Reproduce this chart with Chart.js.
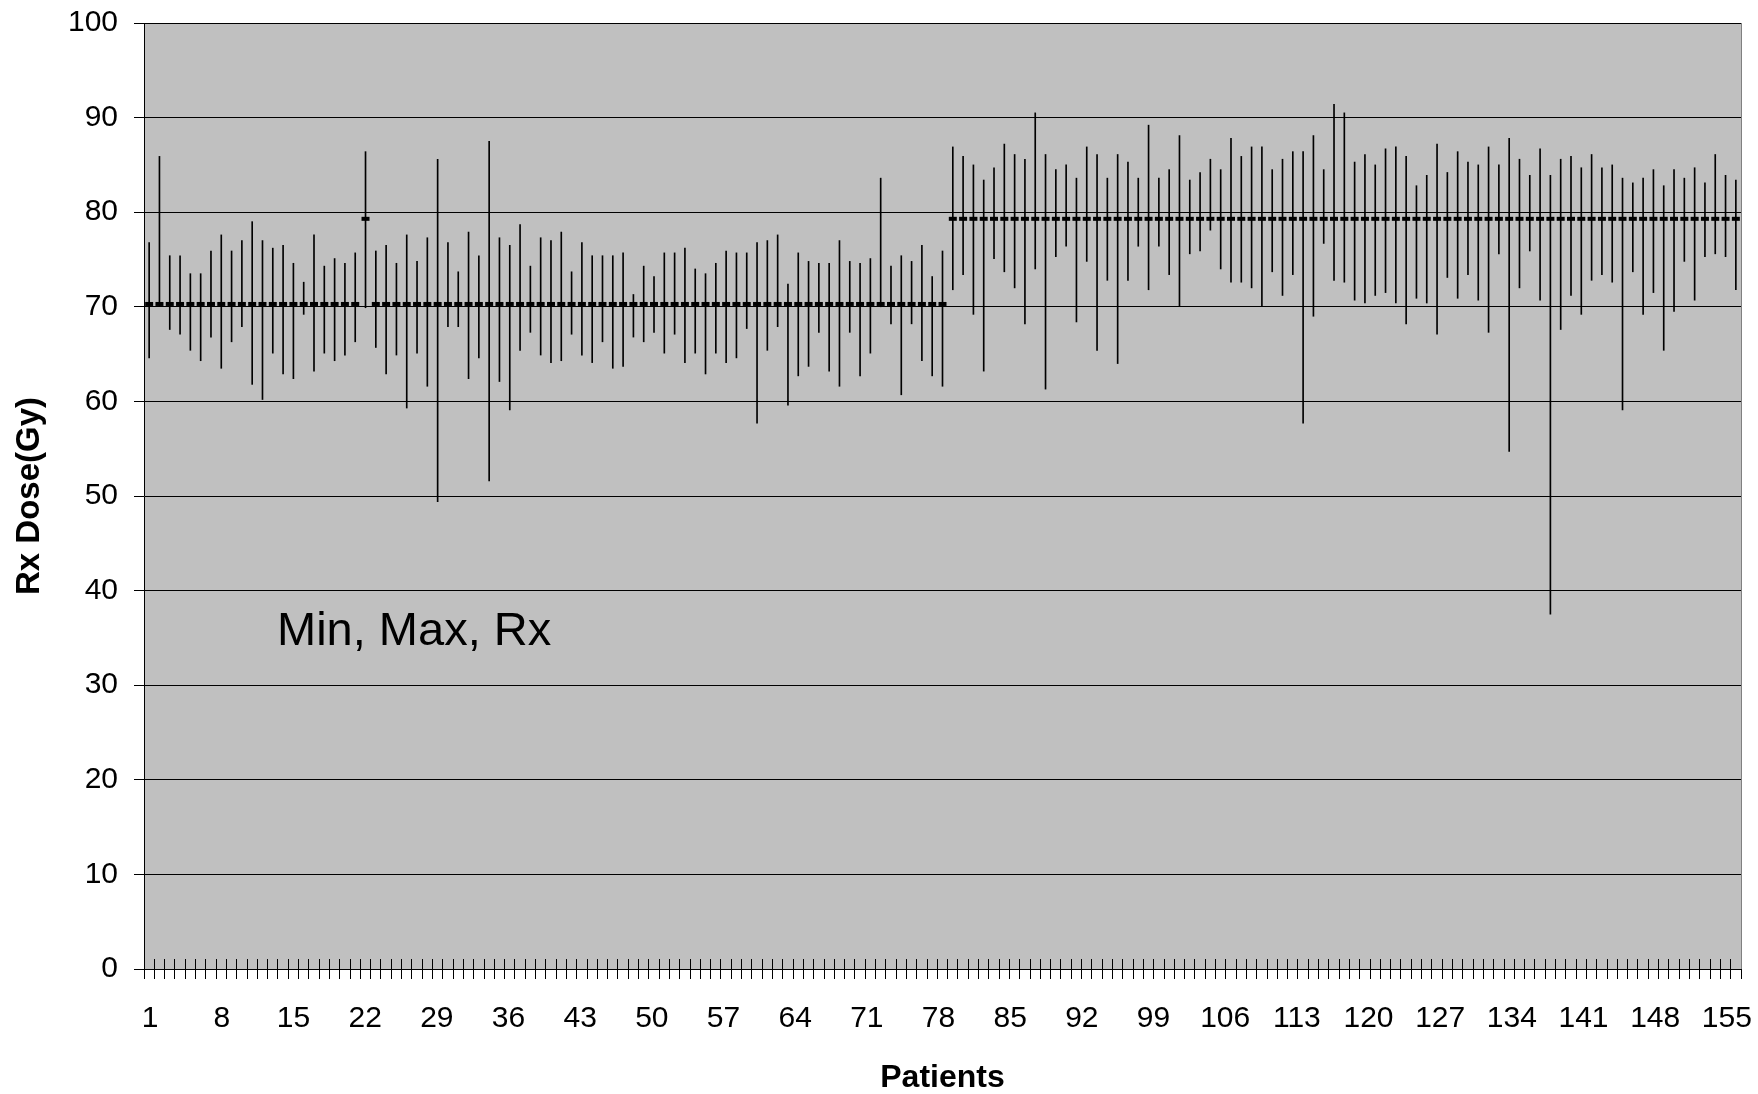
<!DOCTYPE html>
<html>
<head>
<meta charset="utf-8">
<script src="https://cdn.jsdelivr.net/npm/chart.js@4"></script>
<style>
html,body{margin:0;padding:0;background:#fff;}
#wrap{width:1758px;height:1094px;}
</style>
</head>
<body>
<div id="wrap"><canvas id="c" width="1758" height="1094"></canvas></div>
<script>
// Patients (categories)
const patients = [
 '1','2','3','4','5','6','7','8','9','10','11','12','13','14','15','16','17','18','19','20',
 '21','22','23','24','25','26','27','28','29','30','31','32','33','34','35','36','37','38','39','40',
 '41','42','43','44','45','46','47','48','49','50','51','52','53','54','55','56','57','58','59','60',
 '61','62','63','64','65','66','67','68','69','70','71','72','73','74','75','76','77','78','79','80',
 '81','82','83','84','85','86','87','88','89','90','91','92','93','94','95','96','97','98','99','100',
 '101','102','103','104','105','106','107','108','109','110','111','112','113','114','115','116','117','118','119','120',
 '121','122','123','124','125','126','127','128','129','130','131','132','133','134','135','136','137','138','139','140',
 '141','142','143','144','145','146','147','148','149','150','151','152','153','154','155'
];

// Tick labels shown on the x axis
const tickLabels = ['1','8','15','22','29','36','43','50','57','64','71','78','85','92','99','106','113','120','127','134','141','148','155'];

// Minimum dose per patient (Gy)
const minDose = [
 64.6,70.1,67.6,67.1,65.4,64.3,66.8,63.5,66.3,67.9,61.8,60.2,65.1,62.9,62.4,69.2,63.2,65.1,64.3,64.9,
 66.3,69.9,65.7,62.9,64.9,59.3,65.1,61.6,49.4,67.9,67.9,62.4,64.6,51.6,62.1,59.1,65.4,67.3,64.9,64.1,
 64.3,67.1,64.9,64.1,66.3,63.5,63.7,66.8,66.3,67.3,65.1,67.1,64.1,65.1,62.9,65.1,64.1,64.6,67.7,57.7,
 65.4,67.9,59.6,62.7,63.7,67.3,63.2,61.6,67.3,62.7,65.1,70.0,68.2,60.7,68.2,64.3,62.7,61.6,71.8,73.4,
 69.2,63.2,75.1,73.7,72.0,68.2,74.0,61.3,75.3,76.4,68.4,74.8,65.4,72.8,64.0,72.8,76.4,71.8,76.4,73.4,
 70.1,75.6,75.9,78.1,74.0,72.6,72.6,72.0,70.1,73.7,71.2,73.4,57.7,69.0,76.7,72.8,72.6,70.7,70.4,71.2,
 71.5,70.4,68.2,70.9,70.4,67.1,73.1,70.9,73.4,70.7,67.3,75.6,54.7,72.0,75.9,70.7,37.5,67.6,71.2,69.2,
 72.8,73.4,72.6,59.1,73.7,69.2,71.5,65.4,69.5,74.8,70.7,75.3,75.6,75.3,71.8
];

// Maximum dose per patient (Gy)
const maxDose = [
 76.8,85.9,75.4,75.4,73.5,73.5,75.9,77.6,75.9,77.0,79.0,77.0,76.2,76.5,74.6,72.6,77.6,74.3,75.1,74.6,
 75.7,86.4,75.9,76.5,74.6,77.6,74.8,77.3,85.6,76.8,73.7,77.9,75.4,87.5,77.3,76.5,78.7,74.3,77.3,77.0,
 77.9,73.7,76.8,75.4,75.4,75.4,75.7,71.3,74.3,73.2,75.7,75.7,76.2,74.0,73.5,74.6,75.9,75.7,75.7,76.8,
 77.0,77.6,72.4,75.7,74.8,74.6,74.6,77.0,74.8,74.6,75.1,83.6,74.3,75.4,74.8,76.5,73.2,75.9,86.9,85.9,
 85.0,83.4,84.7,87.2,86.1,85.6,90.5,86.1,84.5,85.0,83.6,86.9,86.1,83.6,86.1,85.3,83.6,89.2,83.6,84.5,
 88.1,83.4,84.2,85.6,84.5,87.8,85.9,86.9,86.9,84.5,85.6,86.4,86.4,88.1,84.5,91.4,90.5,85.3,86.1,85.0,
 86.7,86.9,85.9,82.8,83.9,87.2,84.2,86.4,85.3,85.0,86.9,85.0,87.8,85.6,83.9,86.7,83.9,85.6,85.9,84.7,
 86.1,84.7,85.0,83.6,83.1,83.6,84.5,82.8,84.5,83.6,84.7,83.1,86.1,83.9,83.4
];

// Prescribed dose per patient (Gy)
const rxDose = [
 70.3,70.3,70.3,70.3,70.3,70.3,70.3,70.3,70.3,70.3,70.3,70.3,70.3,70.3,70.3,70.3,70.3,70.3,70.3,70.3,
 70.3,79.3,70.3,70.3,70.3,70.3,70.3,70.3,70.3,70.3,70.3,70.3,70.3,70.3,70.3,70.3,70.3,70.3,70.3,70.3,
 70.3,70.3,70.3,70.3,70.3,70.3,70.3,70.3,70.3,70.3,70.3,70.3,70.3,70.3,70.3,70.3,70.3,70.3,70.3,70.3,
 70.3,70.3,70.3,70.3,70.3,70.3,70.3,70.3,70.3,70.3,70.3,70.3,70.3,70.3,70.3,70.3,70.3,70.3,79.3,79.3,
 79.3,79.3,79.3,79.3,79.3,79.3,79.3,79.3,79.3,79.3,79.3,79.3,79.3,79.3,79.3,79.3,79.3,79.3,79.3,79.3,
 79.3,79.3,79.3,79.3,79.3,79.3,79.3,79.3,79.3,79.3,79.3,79.3,79.3,79.3,79.3,79.3,79.3,79.3,79.3,79.3,
 79.3,79.3,79.3,79.3,79.3,79.3,79.3,79.3,79.3,79.3,79.3,79.3,79.3,79.3,79.3,79.3,79.3,79.3,79.3,79.3,
 79.3,79.3,79.3,79.3,79.3,79.3,79.3,79.3,79.3,79.3,79.3,79.3,79.3,79.3,79.3
];

const ranges = minDose.map((m, i) => [m, maxDose[i]]);

const FONT = '"Liberation Sans", Arial, Helvetica, sans-serif';

function align(px) { return Math.round(px - 0.5) + 0.5; }

const plotDecor = {
  id: 'plotDecor',
  beforeDraw(chart) {
    const {ctx, chartArea: a} = chart;
    ctx.save();
    ctx.fillStyle = '#C0C0C0';
    ctx.fillRect(a.left, a.top, a.right - a.left, a.bottom - a.top);
    ctx.restore();
    // nudge x tick labels leftwards progressively, as the original spreadsheet chart places them
    const xs = chart.scales.x;
    if (xs && typeof xs.getLabelItems === 'function') {
      const items = xs.getLabelItems(a);
      const n = patients.length;
      items.forEach((it) => {
        if (!it || !it.label || it._adj || !it.options || !it.options.translation) return;
        const idx = patients.indexOf(String(it.label));
        if (idx < 0) return;
        it.options.translation[0] += 1 - 10 * idx / (n - 1);
        it._adj = true;
      });
    }
  },
  afterDatasetsDraw(chart) {
    const {ctx, chartArea: a, scales} = chart;
    ctx.save();
    ctx.fillStyle = '#000';
    ctx.font = '47px ' + FONT;
    ctx.textAlign = 'left';
    ctx.textBaseline = 'alphabetic';
    ctx.fillText('Min, Max, Rx', a.left + 133, scales.y.getPixelForValue(34.2));
    ctx.restore();
  },
  afterDraw(chart) {
    const {ctx, chartArea: a, scales} = chart;
    const xs = scales.x;
    const n = patients.length;
    const half = (xs.getPixelForValue(1) - xs.getPixelForValue(0)) / 2;
    ctx.save();
    ctx.strokeStyle = '#000';
    ctx.lineWidth = 1;
    ctx.beginPath();
    for (let i = 0; i <= n; i++) {
      const px = i < n ? xs.getPixelForValue(i) - half : xs.getPixelForValue(n - 1) + half;
      const x = align(px);
      ctx.moveTo(x, a.bottom);
      ctx.lineTo(x, a.bottom - 10);
    }
    ctx.stroke();
    ctx.strokeStyle = '#808080';
    ctx.beginPath();
    ctx.moveTo(align(a.right), a.top);
    ctx.lineTo(align(a.right), a.bottom);
    ctx.stroke();
    ctx.restore();
  }
};

new Chart(document.getElementById('c').getContext('2d'), {
  type: 'bar',
  data: {
    labels: patients,
    datasets: [
      {
        type: 'line',
        label: 'Rx',
        data: rxDose,
        showLine: false,
        pointStyle: 'line',
        pointRadius: 4,
        pointHoverRadius: 4,
        pointBorderWidth: 4,
        pointHoverBorderWidth: 4,
        borderColor: '#000',
        pointBorderColor: '#000',
        backgroundColor: '#000',
        order: 1
      },
      {
        type: 'bar',
        label: 'Min-Max',
        data: ranges,
        backgroundColor: '#000',
        borderWidth: 0,
        barThickness: 1,
        order: 2
      }
    ]
  },
  options: {
    responsive: false,
    animation: false,
    devicePixelRatio: 1,
    layout: { padding: { top: 23, right: 17, left: 0, bottom: 0 } },
    plugins: { legend: { display: false }, tooltip: { enabled: false } },
    scales: {
      x: {
        offset: true,
        grid: { offset: true, drawOnChartArea: false, drawTicks: true, tickLength: 10, color: '#000', lineWidth: 1 },
        border: { display: true, color: '#000', width: 1 },
        ticks: {
          autoSkip: false, maxRotation: 0, minRotation: 0, padding: 22, color: '#000',
          font: { family: FONT, size: 30 },
          callback: function (v) { const l = this.getLabelForValue(v); return tickLabels.includes(l) ? l : ''; }
        },
        title: {
          display: true, text: 'Patients', color: '#000',
          font: { family: FONT, size: 32, weight: 'bold', lineHeight: 1 },
          padding: { top: 0, bottom: 0 }
        },
        afterFit(s) { s.height = 125; s.paddingLeft = 0; s.paddingRight = 0; }
      },
      y: {
        min: 0, max: 100,
        ticks: { stepSize: 10, padding: 16, color: '#000', font: { family: FONT, size: 30 } },
        grid: { color: '#000', lineWidth: 1, tickLength: 10, drawTicks: true },
        border: { display: true, color: '#000', width: 1 },
        title: {
          display: true, text: 'Rx Dose(Gy)', color: '#000',
          font: { family: FONT, size: 33, weight: 'bold', lineHeight: 1.2 },
          padding: { top: 10, bottom: 0 }
        },
        afterFit(s) { s.width = 144; s.paddingTop = 0; s.paddingBottom = 0; }
      }
    }
  },
  plugins: [plotDecor]
});
</script>
</body>
</html>
